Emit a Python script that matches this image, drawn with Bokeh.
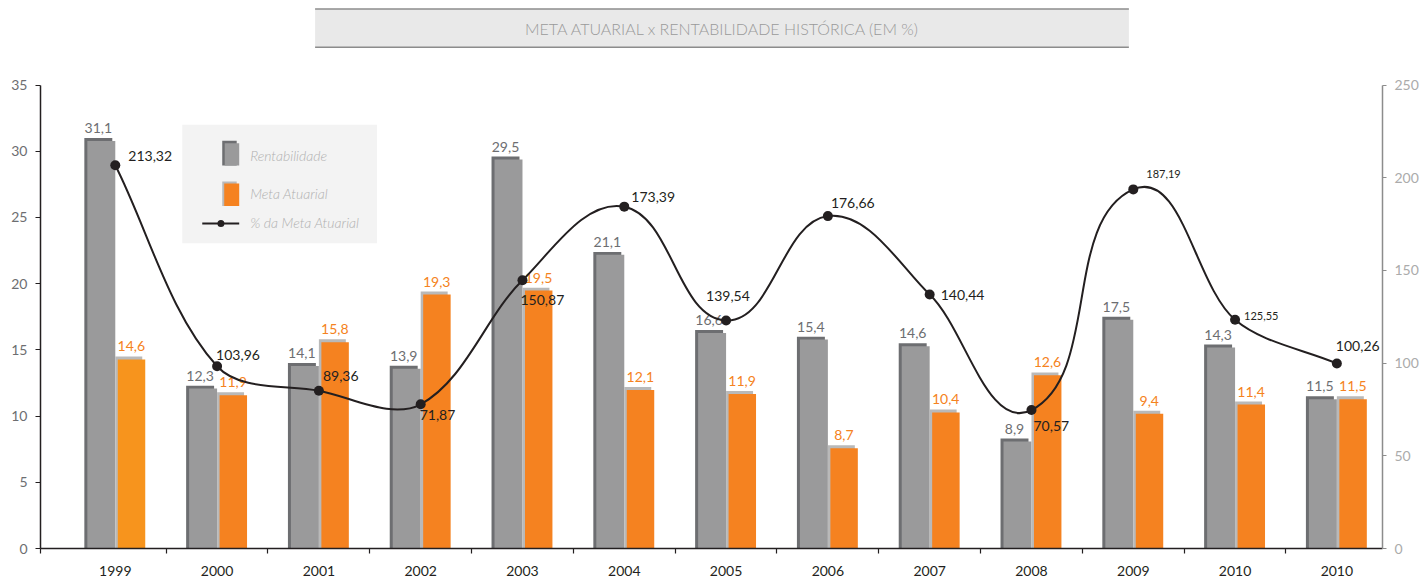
import numpy as np
from bokeh.plotting import figure
from bokeh.models import ColumnDataSource, Range1d, LinearAxis, FixedTicker
from bokeh.core.properties import value
from bokeh.embed import file_html
from bokeh.resources import INLINE

# ---------------- data ----------------
years = ["1999", "2000", "2001", "2002", "2003", "2004", "2005",
         "2006", "2007", "2008", "2009", "2010", "2010"]
rentabilidade = [31.0, 12.3, 14.0, 13.8, 29.6, 22.4, 16.5, 16.0, 15.5, 8.3, 17.5, 15.4, 11.5]
rentabilidade_labels = ["31,1", "12,3", "14,1", "13,9", "29,5", "21,1", "16,6",
                        "15,4", "14,6", "8,9", "17,5", "14,3", "11,5"]
meta_atuarial = [14.5, 11.8, 15.8, 19.4, 19.7, 12.2, 11.9, 7.8, 10.5, 13.3, 10.4, 11.1, 11.5]
meta_atuarial_labels = ["14,6", "11,9", "15,8", "19,3", "19,5", "12,1", "11,9",
                        "8,7", "10,4", "12,6", "9,4", "11,4", "11,5"]
pct_meta = [206.7, 98.3, 85.1, 77.8, 144.7, 184.4, 123.0, 179.3, 137.0, 74.7, 193.7, 123.4, 99.8]
pct_meta_labels = ["213,32", "103,96", "89,36", "71,87", "150,87", "173,39", "139,54",
                   "176,66", "140,44", "70,57", "187,19", "125,55", "100,26"]
left_ticks = [0, 5, 10, 15, 20, 25, 30, 35]
right_ticks = [0, 50, 100, 150, 200, 250]
title_text = "META ATUARIAL x RENTABILIDADE HISTÓRICA (EM %)"
legend_labels = ["Rentabilidade", "Meta Atuarial", "% da Meta Atuarial"]

# ---------------- layout / style ----------------
W, H = 1421, 578
FL, FR, FB = 40, 1384, 551          # frame left / right / bottom (px)
XS = 101.95                         # px per category
X0 = -0.7347
X1 = X0 + (FR - FL) / XS
YS = 466.0 / 35.0                   # px per left-axis unit
Y1 = FB / YS
R1 = Y1 * 250.0 / 35.0
RS = 466.0 / 250.0                  # px per right-axis unit
PX = 1.0 / XS
PY = 1.0 / YS

FONT = value("Lato")
LIGHT = value("Lato Light, Lato")
DARK = "#231f20"
GRAY_FRONT = "#9a9a9b"
GRAY_BACK = "#6d6e71"
ORANGE = "#f58220"
ORANGE_BACK = "#b9b9b9"
orange_colors = ["#f7941d"] + [ORANGE] * 12

pct_dx = [13, -1, 4, -1, -2, 7, -20, 3, 11, 2, 13, 9, -1]
pct_dy = [-9, -11, -15, 11, 20, -10, -24, -13, 0, 16, -15, -4, -17]
pct_fs = ["14px"] * 10 + ["11px", "11px", "14px"]


def rx(xp):   # pixel x -> data x
    return X0 + (xp - FL) / XS


def ry(yp):   # pixel y -> left-axis data y
    return (FB - yp) / YS


idx = np.arange(len(years), dtype=float)
gray_h = np.array(rentabilidade)
orange_h = np.array(meta_atuarial)

p = figure(width=W, height=H, x_range=Range1d(X0, X1), y_range=Range1d(0, Y1),
           output_backend="svg", toolbar_location=None, title=None,
           min_border_left=FL, min_border_right=W - FR, min_border_top=0,
           min_border_bottom=H - FB)
p.outline_line_color = None
p.xgrid.visible = False
p.ygrid.visible = False
p.background_fill_color = "white"
p.border_fill_color = "white"

# ---------------- axes ----------------
ya = p.yaxis[0]
ya.ticker = FixedTicker(ticks=left_ticks)
ya.bounds = (0, 35)
ya.axis_line_color = DARK
ya.axis_line_width = 1.5
ya.major_tick_out = 5
ya.major_tick_in = 0
ya.major_tick_line_color = DARK
ya.minor_tick_line_color = None
ya.major_label_standoff = 8
ya.major_label_text_font = "Lato"
ya.major_label_text_font_size = "14px"
ya.major_label_text_color = "#6d6e71"

p.extra_y_ranges = {"pct": Range1d(0, R1)}
ra = LinearAxis(y_range_name="pct", ticker=FixedTicker(ticks=right_ticks))
ra.bounds = (0, 250)
ra.axis_line_color = "#8c8c8c"
ra.axis_line_width = 1.5
ra.major_tick_out = 4
ra.major_tick_in = 0
ra.major_tick_line_color = "#8c8c8c"
ra.minor_tick_line_color = None
ra.major_label_standoff = 8
ra.major_label_text_font = "Lato"
ra.major_label_text_font_size = "14px"
ra.major_label_text_color = "#ababab"
p.add_layout(ra, "right")

xa = p.xaxis[0]
xa.ticker = FixedTicker(ticks=list(idx), minor_ticks=[X0] + [i + 0.5 for i in range(len(years) - 1)])
xa.major_label_overrides = {i: y for i, y in enumerate(years)}
xa.axis_line_color = DARK
xa.axis_line_width = 1.5
xa.major_tick_out = 0
xa.major_tick_in = 0
xa.major_tick_line_color = None
xa.minor_tick_out = 5
xa.minor_tick_in = 0
xa.minor_tick_line_color = DARK
xa.minor_tick_line_width = 1.2
xa.major_label_standoff = 12
xa.major_label_text_font = "Lato"
xa.major_label_text_font_size = "14px"
xa.major_label_text_color = DARK

# ---------------- title box ----------------
p.quad(left=[rx(315)], right=[rx(1130)], top=[ry(8.5)], bottom=[ry(47)],
       fill_color="#e9e9e9", line_color=None)
p.segment(x0=[rx(315), rx(315)], y0=[ry(8.5), ry(47)], x1=[rx(1130), rx(1130)], y1=[ry(8.5), ry(47)],
          line_color="#8c8c8c", line_width=1.5)
p.text(x=[rx(723)], y=[ry(28)], text=[title_text], text_font=LIGHT, text_font_size="16px",
       text_color="#9a9a9a", text_align="center", text_baseline="middle")

# ---------------- bars ----------------
src = ColumnDataSource(dict(
    x=idx,
    gray_back_x=idx - 17 * PX, gray_front_x=idx - 14 * PX,
    orange_back_x=idx + 13.5 * PX, orange_front_x=idx + 16.25 * PX,
    gray_h=gray_h, gray_front_h=gray_h - 3 * PY,
    orange_h=orange_h, orange_front_h=orange_h - 3 * PY,
    gray_lbl=rentabilidade_labels, orange_lbl=meta_atuarial_labels,
    orange_color=orange_colors,
))
p.vbar(x="gray_back_x", top="gray_h", bottom=0, width=28 * PX, source=src,
       fill_color=GRAY_BACK, line_color=None)
p.vbar(x="gray_front_x", top="gray_front_h", bottom=0, width=28 * PX, source=src,
       fill_color=GRAY_FRONT, line_color=None)
p.vbar(x="orange_back_x", top="orange_h", bottom=0, width=27 * PX, source=src,
       fill_color=ORANGE_BACK, line_color=None)
p.vbar(x="orange_front_x", top="orange_front_h", bottom=0, width=27.5 * PX, source=src,
       fill_color="orange_color", line_color=None)

p.text(x="x", y="gray_h", text="gray_lbl", source=src, x_offset=-17, y_offset=-5,
       text_font=FONT, text_font_size="14px", text_color="#6d6e71",
       text_align="center", text_baseline="bottom")
p.text(x="x", y="orange_h", text="orange_lbl", source=src, x_offset=16, y_offset=-5,
       text_font=FONT, text_font_size="14px", text_color=ORANGE,
       text_align="center", text_baseline="bottom")

# ---------------- smoothed line (% da meta atuarial) ----------------
# Bezier handles computed in pixel space; handle length scaled by adjacent segment length
P = np.array(pct_meta)
sx = idx * XS
sy = P * RS
n = len(P)
tx = np.empty(n); ty = np.empty(n)
for i in range(n):
    a = max(i - 1, 0); b = min(i + 1, n - 1)
    vx, vy = sx[b] - sx[a], sy[b] - sy[a]
    L = np.hypot(vx, vy)
    tx[i], ty[i] = vx / L, vy / L
seg = np.hypot(np.diff(sx), np.diff(sy))
K = 0.32
c0x = sx[:-1] + tx[:-1] * seg * K
c0y = sy[:-1] + ty[:-1] * seg * K
c1x = sx[1:] - tx[1:] * seg * K
c1y = sy[1:] - ty[1:] * seg * K
p.bezier(x0=idx[:-1], y0=P[:-1], x1=idx[1:], y1=P[1:],
         cx0=c0x / XS, cy0=c0y / RS, cx1=c1x / XS, cy1=c1y / RS,
         line_color=DARK, line_width=2, y_range_name="pct")

lsrc = ColumnDataSource(dict(x=idx, y=P, t=pct_meta_labels, dx=pct_dx, dy=pct_dy, fs=pct_fs))
p.scatter(x="x", y="y", source=lsrc, size=10, fill_color=DARK, line_color=None,
          y_range_name="pct")
p.text(x="x", y="y", text="t", source=lsrc, x_offset="dx", y_offset="dy",
       text_font=FONT, text_font_size="fs", text_color=DARK,
       text_align="left", text_baseline="middle", y_range_name="pct")

# ---------------- legend (drawn) ----------------
p.quad(left=[rx(182)], right=[rx(377)], top=[ry(125)], bottom=[ry(244)],
       fill_color="#f3f3f3", line_color=None)
p.quad(left=[rx(222)], right=[rx(236.5)], top=[ry(141)], bottom=[ry(166)],
       fill_color=GRAY_BACK, line_color=None)
p.quad(left=[rx(224.5)], right=[rx(239)], top=[ry(143.5)], bottom=[ry(166)],
       fill_color=GRAY_FRONT, line_color=None)
p.quad(left=[rx(222)], right=[rx(236.5)], top=[ry(182)], bottom=[ry(206.5)],
       fill_color=ORANGE_BACK, line_color=None)
p.quad(left=[rx(224)], right=[rx(239)], top=[ry(184)], bottom=[ry(206.5)],
       fill_color=ORANGE, line_color=None)
p.segment(x0=[rx(202)], y0=[ry(224.3)], x1=[rx(239)], y1=[ry(224.3)],
          line_color=DARK, line_width=2)
p.scatter(x=[rx(220.7)], y=[ry(224.3)], size=7, fill_color=DARK, line_color=None)
p.text(x=[rx(250)] * 3, y=[ry(155.7), ry(194.3), ry(223.5)], text=legend_labels,
       text_font=LIGHT, text_font_size="14px", text_font_style="italic",
       text_color="#b0b0b0", text_align="left", text_baseline="middle")

open("out.html", "w").write(file_html(p, INLINE))
